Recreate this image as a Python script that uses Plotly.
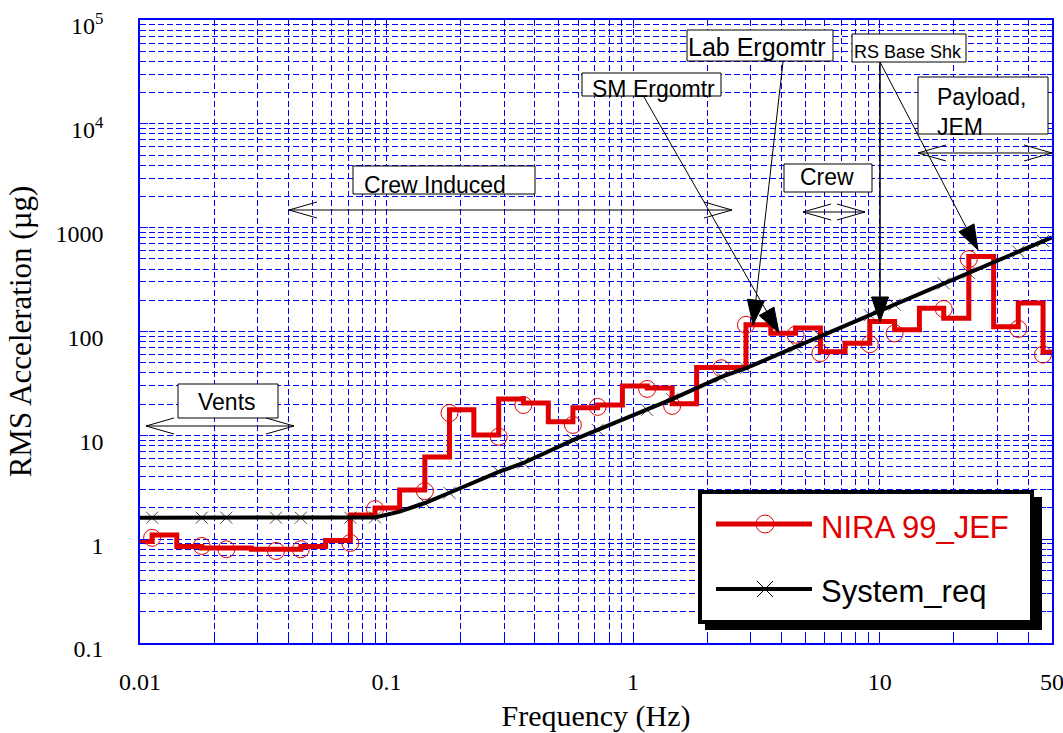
import plotly.graph_objects as go

# ---------------- data ----------------
# 1/3-octave band edges (Hz) at which the NIRA 99_JEF step changes level
band_edges = [0.01, 0.0112, 0.0141, 0.0178, 0.0224, 0.0283, 0.0356, 0.0449, 0.0566, 0.0713,
              0.0898, 0.113, 0.143, 0.180, 0.226, 0.285, 0.359, 0.453, 0.570, 0.718,
              0.905, 1.14, 1.44, 1.81, 2.28, 2.87, 3.62, 4.56, 5.75, 7.24,
              9.12, 11.5, 14.5, 18.2, 23.0, 29.0, 36.5, 46.0, 50.0]
# RMS level (micro-g) of each band: band i spans band_edges[i] .. band_edges[i+1]
nira_levels = [0.95, 1.10, 0.85, 0.82, 0.82, 0.80, 0.80, 0.85, 0.97, 1.71,
               2.00, 2.98, 6.2, 17.6, 10.1, 22.4, 20.5, 13.5, 18.4, 19.6,
               29.9, 28.6, 20.1, 45, 45, 116, 96, 108, 64, 77,
               125, 104, 168, 134, 527, 111, 188, 63]
# circle markers of NIRA 99_JEF
nira_marker_f = [0.0112, 0.0178, 0.0224, 0.0356, 0.0449, 0.0713, 0.0898, 0.143, 0.180, 0.285,
                 0.359, 0.570, 0.718, 1.14, 1.44, 2.28, 2.87, 4.56, 5.75, 9.12,
                 11.5, 18.2, 23.0, 36.5, 46.0]
nira_marker_v = [1.03, 0.86, 0.80, 0.77, 0.80, 0.92, 1.95, 2.9, 16.4, 9.7,
                 19.6, 12.6, 18.8, 28.0, 19.2, 44.3, 116, 93, 62, 75.5,
                 96, 165, 498, 106, 60]
# System requirement curve
req_f = [0.01, 0.0112, 0.0178, 0.0224, 0.0356, 0.0449, 0.0713, 0.0898, 0.113, 0.143,
         0.180, 0.285, 0.359, 0.570, 0.718, 1.14, 1.44, 2.28, 2.87, 4.56,
         5.75, 9.12, 11.5, 18.2, 23.0, 36.5, 46.0, 50.0]
req_v = [1.61, 1.61, 1.61, 1.61, 1.61, 1.61, 1.61, 1.62, 1.84, 2.23,
         2.80, 4.44, 5.42, 9.0, 11.3, 17.6, 22.3, 36.6, 44.3, 71,
         90, 144, 182, 290, 368, 589, 745, 806]
req_unmarked = [0.01, 0.113, 50.0]

x_tick_vals = [0.01, 0.1, 1, 10, 50]
x_tick_text = ["0.01", "0.1", "1", "10", "50"]
y_tick_vals = [0.1, 1, 10, 100, 1000, 1e4, 1e5]
y_tick_text = ["0.1", "1", "10", "100", "1000", "10<sup>4</sup>", "10<sup>5</sup>"]

series_names = ["NIRA 99_JEF", "System_req"]

# ---------------- style ----------------
RED = "#e00000"
BLUE = "#0000ff"
SERIF = "Liberation Serif, Times New Roman, serif"
SANS = "Liberation Sans, Arial, sans-serif"
W, H = 1063, 733
L, R, T, B = 140, 11, 20, 90
PW, PH = W - L - R, H - T - B


def P(xp, yp):
    """pixel position in the page -> paper fraction of the plot area"""
    return (xp - L) / PW, (H - B - yp) / PH


fig = go.Figure()
fig.add_trace(go.Scatter(
    x=band_edges, y=nira_levels + nira_levels[-1:], mode="lines",
    line=dict(color=RED, width=5, shape="hv"), name=series_names[0], showlegend=False))
fig.add_trace(go.Scatter(
    x=nira_marker_f, y=nira_marker_v, mode="markers", name=series_names[0], showlegend=False,
    marker=dict(symbol="circle-open", size=17, color=RED, line=dict(width=1, color=RED))))
fig.add_trace(go.Scatter(
    x=req_f, y=req_v, mode="lines+markers", name=series_names[1], showlegend=False,
    line=dict(color="black", width=4),
    marker=dict(symbol="x-thin-open", size=[0 if f in req_unmarked else 12 for f in req_f],
                color="black", line=dict(width=1, color="black"))))

x_minor = [m * 10 ** e for e in (-2, -1, 0, 1) for m in range(2, 10) if m * 10 ** e < 50]
y_minor = [m * 10 ** e for e in range(-1, 5) for m in range(2, 10)]

grid_common = dict(showgrid=True, gridcolor=BLUE, gridwidth=1, griddash="6px,3px",
                   showline=True, linecolor=BLUE, linewidth=1.5, mirror="ticks",
                   ticks="inside", ticklen=8, tickcolor=BLUE, tickwidth=1,
                   zeroline=False, automargin=False, ticklabeloverflow="allow",
                   tickfont=dict(family=SERIF, size=24, color="black"))
minor_common = dict(ticks="inside", ticklen=5, tickcolor=BLUE, tickwidth=1,
                    showgrid=True, gridcolor=BLUE, gridwidth=1, griddash="6px,3px")

fig.update_layout(
    width=W, height=H,
    margin=dict(l=L, r=R, t=T, b=B, autoexpand=False),
    paper_bgcolor="white", plot_bgcolor="white", showlegend=False,
    xaxis=dict(type="log", range=[-2, 1.6991], tickmode="array",
               tickvals=x_tick_vals, ticktext=x_tick_text,
               minor=dict(tickmode="array", tickvals=x_minor, **minor_common),
               ticklabelstandoff=16,
               title=dict(text="Frequency (Hz)", font=dict(family=SERIF, size=30, color="black"),
                          standoff=17),
               **grid_common),
    yaxis=dict(type="log", range=[-1, 5.0004], tickmode="array",
               tickvals=y_tick_vals, ticktext=y_tick_text,
               minor=dict(tickmode="array", tickvals=y_minor, **minor_common),
               ticklabelstandoff=30, ticklabelshift=6,
               title=dict(text="RMS Acceleration (µg)", font=dict(family=SERIF, size=31, color="black"),
                          standoff=15),
               **grid_common),
)

shapes = []
annos = []


def box(x0, y0, x1, y1):
    a, b = P(x0, y0)
    c, d = P(x1, y1)
    shapes.append(dict(type="rect", xref="paper", yref="paper", x0=a, y0=d, x1=c, y1=b,
                       fillcolor="white", line=dict(color="black", width=1), layer="above"))


def label(x, y, text, size, color="black"):
    a, b = P(x, y)
    annos.append(dict(xref="paper", yref="paper", x=a, y=b, text=text, showarrow=False,
                      xanchor="left", yanchor="middle", align="left",
                      font=dict(family=SANS, size=size, color=color)))


def seg_path(points):
    s = ""
    for i, (xp, yp) in enumerate(points):
        a, b = P(xp, yp)
        s += ("M" if i == 0 else "L") + f"{a:.5f},{b:.5f}"
    return s


def line(points, width=1, color="black"):
    shapes.append(dict(type="path", xref="paper", yref="paper", path=seg_path(points),
                       line=dict(color=color, width=width), layer="above"))


def double_arrow(xl, xr, y, hl=28, hw=8):
    line([(xl, y), (xr, y)])
    line([(xl + hl, y - hw), (xl, y), (xl + hl, y + hw)])
    line([(xr - hl, y - hw), (xr, y), (xr - hl, y + hw)])


def filled_arrow(tail, tip, hl=25, hw=8.5, width=1, color="black"):
    dx, dy = tip[0] - tail[0], tip[1] - tail[1]
    n = (dx * dx + dy * dy) ** 0.5
    ux, uy = dx / n, dy / n
    bx, by = tip[0] - ux * hl, tip[1] - uy * hl
    line([tail, (bx, by)], width=width, color=color)
    pts = [tip, (bx - uy * hw, by + ux * hw), (bx + uy * hw, by - ux * hw)]
    shapes.append(dict(type="path", xref="paper", yref="paper", path=seg_path(pts) + "Z",
                       fillcolor=color, line=dict(color=color, width=1), layer="above"))


# text boxes
box(178, 384, 278, 418); label(196, 402, "Vents", 23)
double_arrow(146, 294, 426)
box(353, 166, 535, 194); label(362, 185, "Crew Induced", 23)
double_arrow(289, 732, 210)
box(784, 164, 872, 192); label(798, 177, "Crew", 23)
double_arrow(803, 865, 212)
box(918, 77, 1048, 134)
a, b = P(935, 112)
annos.append(dict(xref="paper", yref="paper", x=a, y=b, text="Payload,<br>JEM", showarrow=False,
                  xanchor="left", yanchor="middle", align="left",
                  font=dict(family=SANS, size=23, color="black")))
double_arrow(918, 1052, 153)
box(582, 73, 721, 96); label(590, 89, "SM Ergomtr", 23)
box(687, 30, 833, 61); label(686, 47, "Lab Ergomtr", 25)
box(852, 34, 966, 62); label(852, 52, "RS Base Shk", 18)

filled_arrow((644, 97), (779, 333))
filled_arrow((783, 62), (753, 325))
filled_arrow((880, 62), (880, 322), width=1.5)
filled_arrow((880, 62), (978, 250))

# legend box with shadow
s0, s1 = P(705, 497), P(1042, 630)
shapes.append(dict(type="rect", xref="paper", yref="paper", x0=s0[0], y0=s1[1], x1=s1[0], y1=s0[1],
                   fillcolor="black", line=dict(width=0), layer="above"))
b0, b1 = P(700, 492), P(1032, 622)
shapes.append(dict(type="rect", xref="paper", yref="paper", x0=b0[0], y0=b1[1], x1=b1[0], y1=b0[1],
                   fillcolor="white", line=dict(color="black", width=4), layer="above"))
line([(716, 524), (812, 524)], width=5, color=RED)
c = P(765, 524)
shapes.append(dict(type="circle", xref="paper", yref="paper", xsizemode="pixel", ysizemode="pixel",
                   xanchor=c[0], yanchor=c[1], x0=-9, x1=9, y0=-9, y1=9,
                   line=dict(color=RED, width=1), layer="above"))
label(819, 527, series_names[0], 31, RED)
line([(716, 589), (812, 589)], width=4, color="black")
line([(757, 581), (773, 597)])
line([(757, 597), (773, 581)])
label(819, 591, series_names[1], 31, "black")

fig.update_layout(shapes=shapes, annotations=annos)

fig.write_html("out.html", config={"displayModeBar": False},
               post_script="document.body.style.margin='0';")
